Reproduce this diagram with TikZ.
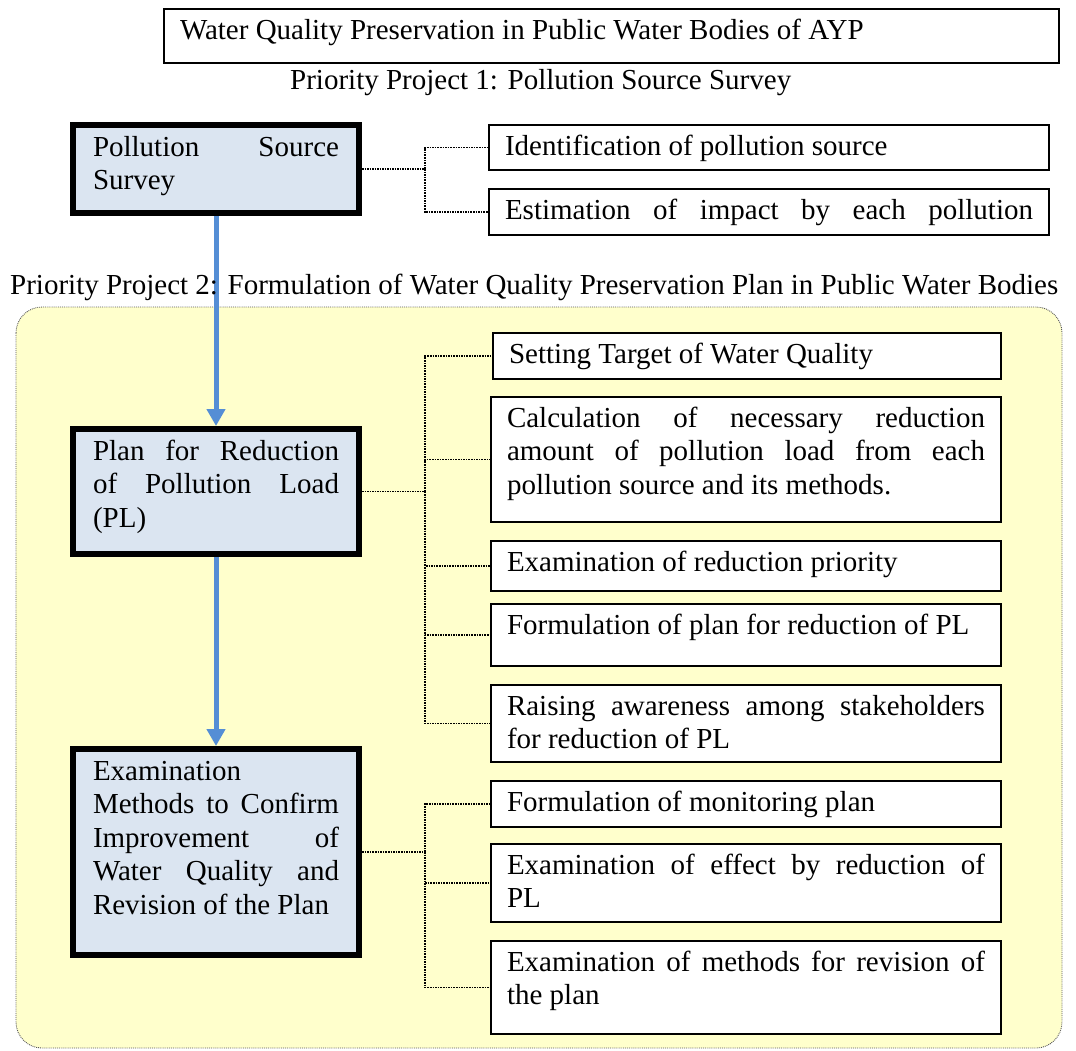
\documentclass[tikz,border=0pt]{standalone}
\usepackage{fontspec}
\setmainfont{Liberation Serif}
\usetikzlibrary{arrows.meta}

\definecolor{boxblue}{HTML}{DBE5F1}
\definecolor{paleyellow}{HTML}{FFFFCC}
\definecolor{arrowblue}{HTML}{558ED5}

\tikzset{
  sidebox/.style={draw=black, line width=2pt, fill=white, inner xsep=16pt, inner ysep=7pt, anchor=north west},
  stagebox/.style={draw=black, line width=6pt, fill=boxblue, inner xsep=20pt, inner ysep=8pt, anchor=north west},
  flow/.style={draw=arrowblue, line width=5pt, -{Triangle[width=18pt,length=17pt]}},
  link/.style={densely dotted, line width=1.6pt},
  stub/.style={dash pattern=on 1.6pt off 0.9pt, line width=1.8pt},
  heading/.style={inner sep=0pt, anchor=base west},
}

% box with thin border: name, x1, y1, x2, y2 (outer edges), text
\newcommand{\sidenode}[6]{%
  \node[sidebox] (#1) at (#2,#3)
    {\parbox[c][\dimexpr #5pt-#3pt-16pt\relax][t]{\dimexpr #4pt-#2pt-34pt\relax}{\strut #6}};}
% box with thick border for the main stages
\newcommand{\stagenode}[6]{%
  \node[stagebox] (#1) at (#2,#3)
    {\parbox[c][\dimexpr #5pt-#3pt-22pt\relax][t]{\dimexpr #4pt-#2pt-46pt\relax}{\strut #6}};}

\begin{document}
\begin{tikzpicture}[x=1pt, y=-1pt, font=\fontsize{29pt}{33.5pt}\selectfont]
  \useasboundingbox (0,0) rectangle (1076,1050);

  % shaded panel of the second project
  \draw[fill=paleyellow, draw=black!65, line width=0.9pt, densely dotted, rounded corners=26pt]
    (16,307) rectangle (1062,1048);

  % title and first project
  \sidenode{title}{163}{8}{1060}{64}{Water Quality Preservation in Public Water Bodies of AYP}
  \node[heading] (pp1) at (290,89.6) {Priority Project 1: Pollution Source Survey};

  \stagenode{pss}{70}{122}{362}{216}{Pollution\hfill Source\\Survey}
  \sidenode{idn}{488}{124}{1050}{171}{Identification of pollution source}
  \sidenode{est}{488}{188}{1050}{236}{Estimation\hfill of\hfill impact\hfill by\hfill each\hfill pollution}

  % second project
  \stagenode{pl}{70}{426}{362}{557}{Plan\hfill for\hfill Reduction\\of\hfill Pollution\hfill Load\\(PL)}
  \sidenode{tgt}{492}{332}{1002}{380}{Setting Target of Water Quality}
  \sidenode{calc}{490}{396}{1002}{523}{Calculation\hfill of\hfill necessary\hfill reduction\\amount\hfill of\hfill pollution\hfill load\hfill from\hfill each\\pollution source and its methods.}
  \sidenode{prio}{490}{540}{1002}{592}{Examination of reduction priority}
  \sidenode{form}{490}{603}{1002}{667}{Formulation of plan for reduction of PL}
  \sidenode{aware}{490}{684}{1002}{763}{Raising\hfill awareness\hfill among\hfill stakeholders\\for reduction of PL}

  \stagenode{exam}{70}{746}{362}{958}{Examination\\Methods\hfill to\hfill Confirm\\Improvement\hfill of\\Water\hfill Quality\hfill and\\Revision of the Plan}
  \sidenode{mon}{490}{780}{1002}{828}{Formulation of monitoring plan}
  \sidenode{eff}{490}{843}{1002}{923}{Examination\hfill of\hfill effect\hfill by\hfill reduction\hfill of\\PL}
  \sidenode{rev}{490}{940}{1002}{1035}{Examination\hfill of\hfill methods\hfill for\hfill revision\hfill of\\the plan}

  % dotted tree connectors
  \coordinate (trunk) at (425,0);
  \draw[stub] (pss.east) -- (pss.east -| trunk);
  \foreach \c in {idn,est} \draw[link] (pss.east -| trunk) |- (\c.west);
  \draw[stub] (pl.east) -- (pl.east -| trunk);
  \foreach \c in {tgt,calc,prio,form,aware} \draw[link] (pl.east -| trunk) |- (\c.west);
  \draw[link] (exam.east) -- (exam.east -| trunk);
  \foreach \c in {mon,eff,rev} \draw[link] (exam.east -| trunk) |- (\c.west);

  % flow between the stages
  \draw[flow] (pss.south) -- (pl.north);
  \draw[flow] (pl.south) -- (exam.north);

  \node[heading] (pp2) at (10,294.6) {Priority Project 2: Formulation of Water Quality Preservation Plan in Public Water Bodies};
\end{tikzpicture}
\end{document}
